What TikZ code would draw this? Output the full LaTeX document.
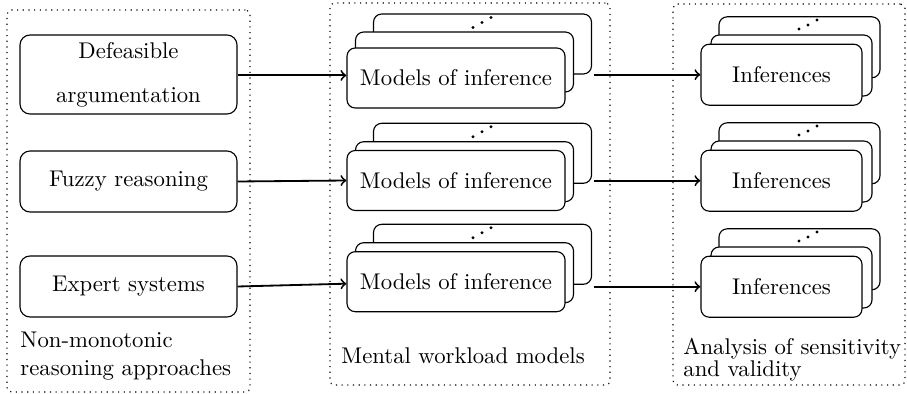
\documentclass[tikz,border=0pt]{standalone}
\usetikzlibrary{calc}
\begin{document}
\begin{tikzpicture}[x=0.44pt, y=-0.44pt,
  card/.style={draw, line width=0.5pt, fill=white, inner sep=0pt, align=center},
  srcbox/.style={card, rounded corners=4.4pt, minimum width=217*0.44pt, minimum height=61*0.44pt},
  modelbox/.style={card, rounded corners=3.6pt, minimum width=218*0.44pt, minimum height=60*0.44pt},
  outbox/.style={card, rounded corners=3.6pt, minimum width=161*0.44pt, minimum height=61*0.44pt},
  group/.style={draw, dotted, line width=0.5pt, rounded corners=2pt, inner sep=0pt},
  flow/.style={->, line width=0.8pt},
  stackdot/.style={fill, circle, inner sep=0pt, minimum size=1.4pt},
  caption/.style={inner sep=0pt, align=left, anchor=north west}]
\useasboundingbox (0,0) rectangle (907,394);

% dotted frames of the three stages
\node[group, minimum width=243*0.44pt, minimum height=382*0.44pt] (gsrc) at (128.5,201) {};
\node[group, minimum width=280*0.44pt, minimum height=382*0.44pt] (gmod) at (470,194) {};
\node[group, minimum width=232*0.44pt, minimum height=381*0.44pt] (gout) at (789,194.5) {};

% reasoning approaches
\node[srcbox, minimum height=79*0.44pt] (def) at (128.5,74.5) {Defeasible\\[7.4pt]argumentation};
\node[srcbox] (fuz) at (128.5,181.5) {Fuzzy reasoning};
\node[srcbox] (exp) at (128.5,286.5) {Expert systems};

% stacks of inference models
\node[modelbox] (m1b) at (482.5,44) {};
\node[modelbox] (m1m) at (464.5,62) {};
\node[modelbox] (m1f) at (456,78) {Models of inference};
\node[modelbox] (m2b) at (482.5,153.3) {};
\node[modelbox] (m2m) at (464.5,171.7) {};
\node[modelbox] (m2f) at (456,180.5) {Models of inference};
\node[modelbox] (m3b) at (482.5,254.3) {};
\node[modelbox] (m3m) at (464.5,272.7) {};
\node[modelbox] (m3f) at (456,281.7) {Models of inference};

% stacks of inferences
\foreach \r/\dy in {1/0, 2/106, 3/212} {
  \node[outbox] (r\r b) at (799.5,47.3+\dy) {};
  \node[outbox] (r\r m) at (791.5,65.5+\dy) {};
  \node[outbox] (r\r f) at (781.5,74.7+\dy) {Inferences};
}

% rising dots above each stack
\foreach \r in {1,2,3} {
  \node[stackdot] (md\r a) at ($(m\r b.north)+(-9.5,14)$) {};
  \node[stackdot] (md\r b) at ($(m\r b.north)+(-0.5,9)$) {};
  \node[stackdot] (md\r c) at ($(m\r b.north)+(8.5,4)$) {};
  \node[stackdot] (rd\r a) at ($(r\r b.north)+(-0.5,12.7)$) {};
  \node[stackdot] (rd\r b) at ($(r\r b.north)+(8.5,8.7)$) {};
  \node[stackdot] (rd\r c) at ($(r\r b.north)+(17.5,3.7)$) {};
}

% connectors
\draw[flow] ($(def.east)+(0,0.9)$) -- ($(def.east -| m1f.west)+(0,0.9)$);
\draw[flow] (fuz.east) -- (m2f.west);
\draw[flow] (exp.east) -- ($(m3f.west)+(0,2)$);
\foreach \r in {1,2,3}
  \draw[flow] ($(m\r b.east |- r\r f.west)+(2,0)$) -- (r\r f.west);

% stage captions
\node[caption] (capsrc) at (20,332) {Non-monotonic\\ reasoning approaches};
\node[caption] (capmod) at (341,347) {Mental workload models};
\node[caption] (capout) at (683,338) {Analysis of sensitivity\\[-2.5pt]and validity};
\end{tikzpicture}
\end{document}
